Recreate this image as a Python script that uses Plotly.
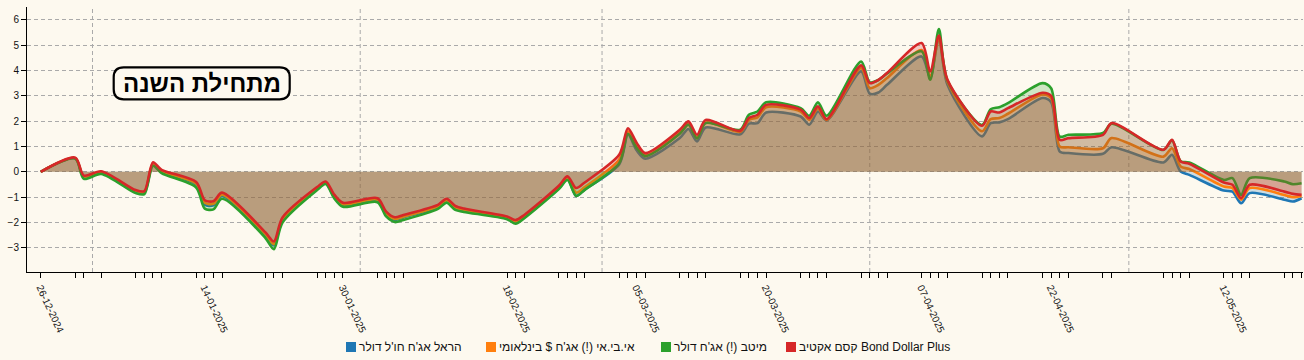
import plotly.graph_objects as go
from datetime import date

# ---------------- data ----------------
dates = ["2024-12-26", "2024-12-30", "2024-12-31", "2025-01-02",
         "2025-01-06", "2025-01-07", "2025-01-08", "2025-01-09",
         "2025-01-13", "2025-01-14", "2025-01-15", "2025-01-16",
         "2025-01-21", "2025-01-22", "2025-01-23",
         "2025-01-27", "2025-01-28", "2025-01-29", "2025-01-30",
         "2025-02-03", "2025-02-04", "2025-02-05", "2025-02-06",
         "2025-02-10", "2025-02-11", "2025-02-12", "2025-02-13",
         "2025-02-18", "2025-02-19", "2025-02-20",
         "2025-02-24", "2025-02-25", "2025-02-26", "2025-02-27",
         "2025-03-03", "2025-03-04", "2025-03-05", "2025-03-06",
         "2025-03-10", "2025-03-11", "2025-03-12", "2025-03-13",
         "2025-03-17", "2025-03-18", "2025-03-19", "2025-03-20",
         "2025-03-24", "2025-03-25", "2025-03-26", "2025-03-27",
         "2025-03-31", "2025-04-01", "2025-04-02", "2025-04-03",
         "2025-04-07", "2025-04-08", "2025-04-09", "2025-04-10",
         "2025-04-14", "2025-04-15", "2025-04-16", "2025-04-17",
         "2025-04-21", "2025-04-22", "2025-04-23", "2025-04-24",
         "2025-04-28", "2025-04-29",
         "2025-05-05", "2025-05-06", "2025-05-07", "2025-05-08",
         "2025-05-12", "2025-05-13", "2025-05-14", "2025-05-15",
         "2025-05-19", "2025-05-20", "2025-05-21"]

label_dates = ["2024-12-26", "2025-01-14", "2025-01-30", "2025-02-18",
               "2025-03-05", "2025-03-20", "2025-04-07", "2025-04-22",
               "2025-05-12"]

harel = [0, 0.53, -0.22, -0.04, -0.78, -0.82, 0.3, 0.0,
         -0.5, -1.3, -1.32, -0.95, -2.5, -2.9, -1.9,
         -0.67, -0.44, -1.0, -1.32, -1.13, -1.68, -1.9, -1.8,
         -1.4, -1.16, -1.44, -1.53, -1.83, -2.0, -1.78,
         -0.64, -0.28, -0.95, -0.7, 0.3, 1.48, 0.85, 0.52,
         1.33, 1.69, 1.2, 1.75, 1.48, 1.9, 1.92, 2.34,
         2.18, 1.86, 2.38, 2.03, 3.96, 3.08, 3.13, 3.43,
         4.55, 3.7, 5.28, 3.43, 1.4, 1.92, 1.95, 2.08,
         2.91, 2.75, 0.8, 0.74, 0.71, 0.97,
         0.37, 0.67, 0.01, -0.12, -0.74, -0.78, -1.24, -0.84,
         -1.1, -1.17, -1.04]

ibi = [0, 0.54, -0.2, -0.02, -0.76, -0.8, 0.33, 0.03,
       -0.46, -1.22, -1.26, -0.9, -2.45, -2.85, -1.87,
       -0.65, -0.42, -0.96, -1.28, -1.1, -1.64, -1.86, -1.77,
       -1.36, -1.12, -1.4, -1.5, -1.8, -1.96, -1.75,
       -0.6, -0.24, -0.82, -0.6, 0.5, 1.6, 1.0, 0.65,
       1.55, 1.88, 1.35, 1.95, 1.58, 2.05, 2.15, 2.55,
       2.38, 2.05, 2.5, 2.05, 4.1, 3.3, 3.43, 3.7,
       4.8, 3.75, 5.3, 3.55, 1.6, 2.08, 2.12, 2.29,
       3.05, 2.9, 1.0, 0.97, 0.93, 1.33,
       0.6, 0.93, 0.21, 0.11, -0.58, -0.64, -1.1, -0.64,
       -0.91, -1.0, -0.95]

meitav = [0, 0.52, -0.28, -0.08, -0.84, -0.88, 0.24, -0.05,
          -0.62, -1.45, -1.48, -1.06, -2.6, -3.05, -2.0,
          -0.72, -0.48, -1.05, -1.38, -1.2, -1.76, -1.98, -1.9,
          -1.46, -1.22, -1.5, -1.58, -1.87, -2.05, -1.83,
          -0.68, -0.32, -0.95, -0.71, 0.35, 1.5, 0.95, 0.62,
          1.5, 1.86, 1.32, 1.92, 1.66, 2.25, 2.38, 2.74,
          2.51, 2.21, 2.74, 2.21, 4.35, 3.53, 3.62, 3.88,
          4.75, 3.63, 5.63, 3.6, 1.85, 2.47, 2.55, 2.71,
          3.5, 3.3, 1.39, 1.46, 1.53, 1.9,
          0.86, 1.24, 0.42, 0.37, -0.32, -0.25, -0.91, -0.25,
          -0.38, -0.49, -0.45]

kesem = [0, 0.56, -0.15, 0.02, -0.72, -0.76, 0.38, 0.08,
         -0.4, -1.12, -1.16, -0.82, -2.38, -2.75, -1.8,
         -0.6, -0.38, -0.9, -1.22, -1.04, -1.57, -1.79, -1.7,
         -1.3, -1.06, -1.34, -1.45, -1.76, -1.9, -1.7,
         -0.55, -0.18, -0.64, -0.42, 0.68, 1.72, 1.15, 0.74,
         1.66, 1.99, 1.46, 2.05, 1.62, 2.12, 2.25, 2.64,
         2.45, 2.12, 2.58, 2.08, 4.2, 3.5, 3.63, 3.9,
         5.08, 3.96, 5.37, 3.63, 1.82, 2.38, 2.34, 2.51,
         3.12, 3.0, 1.26, 1.33, 1.46, 1.92,
         0.87, 1.26, 0.41, 0.32, -0.42, -0.51, -1.04, -0.51,
         -0.78, -0.87, -0.91]

series_names = ["הראל אג'ח חו'ל דולר",
                "אי.בי.אי (!) אג'ח $ בינלאומי",
                "מיטב (!) אג'ח דולר",
                "קסם אקטיב Bond Dollar Plus"]
series_values = [harel, ibi, meitav, kesem]
series_colors = ["#1f77b4", "#ff7f0e", "#2ca02c", "#d62728"]

y_ticks = [-3, -2, -1, 0, 1, 2, 3, 4, 5, 6]
title_text = "מתחילת השנה"

# ---------------- layout helpers ----------------
W, H = 1304, 360
ML, MR, MT, MB = 27, 1, 7, 88
PW, PH = W - ML - MR, H - MT - MB
BG = "#fdf9ef"
FONT = "Liberation Sans, Arial, sans-serif"


def px_x(p):
    return (p - ML) / PW


def px_y(p):
    return (H - MB - p) / PH


def rgba(hex_color, a):
    h = hex_color.lstrip("#")
    r, g, b = int(h[0:2], 16), int(h[2:4], 16), int(h[4:6], 16)
    return f"rgba({r},{g},{b},{a})"


def fmt(d):
    y, m, dd = d.split("-")
    return f"{dd}-{m}-{y}"


fig = go.Figure()
for name, vals, col in zip(series_names, series_values, series_colors):
    fig.add_trace(go.Scatter(
        x=dates, y=vals, name=name, mode="lines",
        line=dict(color=col, width=2.6, shape="spline", smoothing=0.8),
        fill="tozeroy", fillcolor=rgba(col, 0.22),
        showlegend=False, hoverinfo="skip"))

shapes = []
# month-start vertical grid lines
d0 = date.fromisoformat(dates[0])
d1 = date.fromisoformat(dates[-1])
y_, m_ = d0.year, d0.month
while True:
    m_ += 1
    if m_ > 12:
        m_, y_ = 1, y_ + 1
    ms = date(y_, m_, 1)
    if ms > d1:
        break
    shapes.append(dict(type="line", xref="x", yref="paper",
                       x0=ms.isoformat(), x1=ms.isoformat(), y0=0, y1=1,
                       line=dict(color="#aaaaaa", width=1, dash="4px,3px"),
                       layer="below"))

# rounded title box
hw, hh, r = 88, 16, 10
path = (f"M {-hw + r},{-hh} L {hw - r},{-hh} Q {hw},{-hh} {hw},{-hh + r} "
        f"L {hw},{hh - r} Q {hw},{hh} {hw - r},{hh} L {-hw + r},{hh} "
        f"Q {-hw},{hh} {-hw},{hh - r} L {-hw},{-hh + r} Q {-hw},{-hh} {-hw + r},{-hh} Z")
shapes.append(dict(type="path", xref="paper", yref="paper",
                   xsizemode="pixel", ysizemode="pixel",
                   xanchor=px_x(201.7), yanchor=px_y(83.3), path=path,
                   line=dict(color="black", width=2.2), fillcolor=BG,
                   layer="above"))

annotations = [dict(text=f"<b>{title_text}</b>", xref="paper", yref="paper",
                    x=px_x(201.7), y=px_y(83.5), xanchor="center",
                    yanchor="middle", showarrow=False,
                    font=dict(family=FONT, size=24, color="black"))]

# manual legend
leg_sq = [351, 491, 666, 791]
leg_y = 347
for cx, name, col in zip(leg_sq, series_names, series_colors):
    shapes.append(dict(type="rect", xref="paper", yref="paper",
                       x0=px_x(cx - 5), x1=px_x(cx + 5),
                       y0=px_y(leg_y - 5), y1=px_y(leg_y + 5),
                       line=dict(width=0), fillcolor=col))
    annotations.append(dict(text=name, xref="paper", yref="paper",
                            x=px_x(cx + 6), y=px_y(leg_y), xanchor="left",
                            yanchor="middle", showarrow=False,
                            font=dict(family=FONT, size=12, color="#111")))

fig.update_layout(
    width=W, height=H,
    margin=dict(l=ML, r=MR, t=MT, b=MB, autoexpand=False),
    paper_bgcolor=BG, plot_bgcolor=BG,
    font=dict(family=FONT, size=10, color="#222"),
    showlegend=False,
    shapes=shapes, annotations=annotations,
    xaxis=dict(type="date", automargin=False,
               range=["2024-12-24 09:56", "2025-05-21 04:00"],
               tickmode="array", tickvals=dates,
               ticktext=[fmt(d) if d in label_dates else "" for d in dates],
               tickangle=65, ticks="outside", ticklen=5, tickcolor="black",
               showline=True, linecolor="black", linewidth=1,
               showgrid=False, zeroline=False,
               tickfont=dict(family=FONT, size=10, color="#111")),
    yaxis=dict(range=[-3.95, 6.5], tickmode="array", tickvals=y_ticks,
               automargin=False,
               ticks="outside", ticklen=5, tickcolor="black",
               showline=True, linecolor="black", linewidth=1,
               showgrid=True, gridcolor="#aaaaaa", griddash="4px,3px",
               gridwidth=1, zeroline=False,
               tickfont=dict(family=FONT, size=10, color="#111")),
)

fig.write_html("out.html",
               config={"displayModeBar": False},
               post_script="document.body.style.margin='0';"
                           "document.body.style.background='" + BG + "';")
